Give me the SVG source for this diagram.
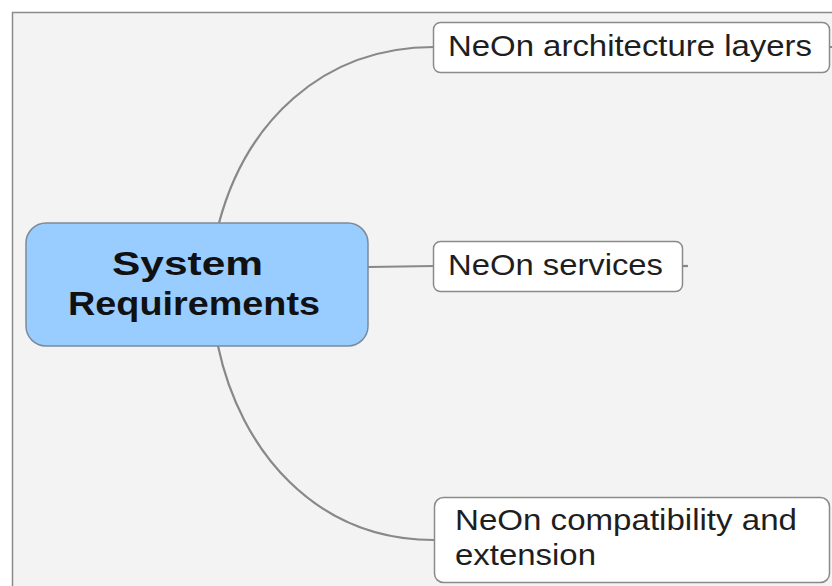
<svg xmlns="http://www.w3.org/2000/svg" width="832" height="586" viewBox="0 0 832 586">
<style>
.bg{fill:#f3f3f3;stroke:#8a8a8a;stroke-width:1.5}
.conn{fill:none;stroke:#888;stroke-width:2.2}
.main{fill:#99ccff;stroke:#7c8a99;stroke-width:1.5}
.sub{fill:#ffffff;stroke:#8a8a8a;stroke-width:1.5}
.t{font-family:"Liberation Sans",Arial,sans-serif;fill:#1e1e1e}
.tm{font-family:"Liberation Sans",Arial,sans-serif;font-weight:bold;fill:#111;font-size:34px}
.ts{font-size:29px}
</style>
<rect width="832" height="586" fill="#ffffff"/>
<rect class="bg" x="12.5" y="12.5" width="840" height="600"/>
<g id="connectors">
<path class="conn" d="M219,223 C245,125 320,47 434,47"/>
<path class="conn" d="M368,267 L434,266"/>
<path class="conn" d="M218,346 C240,450 315,540 434,540"/>
<path class="conn" d="M830,47 L834,47"/>
<path class="conn" d="M683,266 L688,266"/>
</g>
<g id="central">
<rect class="main" x="26" y="223" width="342" height="123" rx="20"/>
<text class="tm" x="112" y="275" textLength="151" lengthAdjust="spacingAndGlyphs">System</text>
<text class="tm" x="68" y="315" textLength="252" lengthAdjust="spacingAndGlyphs">Requirements</text>
</g>
<g id="n1">
<rect class="sub" x="433.5" y="22.5" width="396" height="50" rx="7"/>
<text class="t ts" x="448" y="56" textLength="364" lengthAdjust="spacingAndGlyphs">NeOn architecture layers</text>
</g>
<g id="n2">
<rect class="sub" x="433.5" y="241.5" width="249" height="50" rx="7"/>
<text class="t ts" x="448" y="275" textLength="215" lengthAdjust="spacingAndGlyphs">NeOn services</text>
</g>
<g id="n3">
<rect class="sub" x="434.5" y="497.5" width="395" height="85" rx="9"/>
<text class="t ts" x="455" y="530" textLength="342" lengthAdjust="spacingAndGlyphs">NeOn compatibility and</text>
<text class="t ts" x="455" y="565" textLength="141" lengthAdjust="spacingAndGlyphs">extension</text>
</g>
</svg>
